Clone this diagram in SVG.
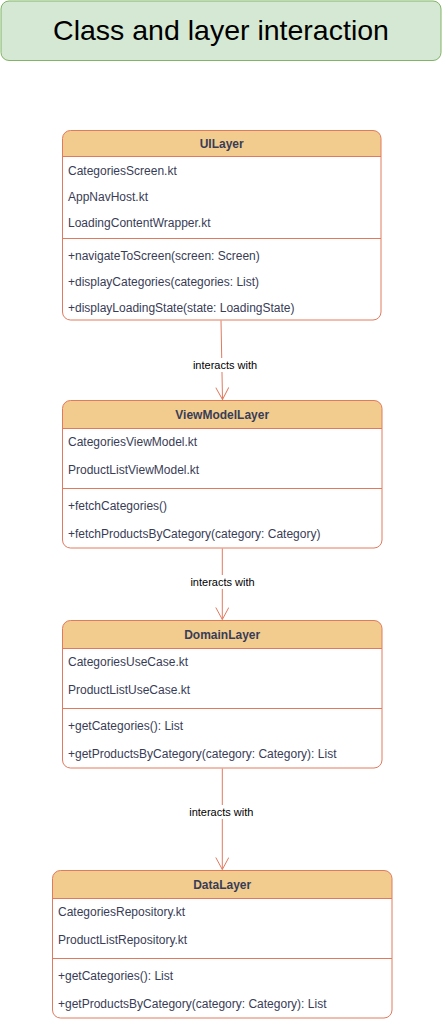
<svg xmlns="http://www.w3.org/2000/svg" width="443" height="1022" viewBox="0 0 443 1022">
<defs>
<style>
.box{fill:#ffffff;stroke:none}
.hdr{fill:#F2CC8F;stroke:none}
.out{fill:none;stroke:#E07A5F;stroke-width:1}
.sep{stroke:#E07A5F;stroke-width:1;fill:none}
.ht{font-family:"Liberation Sans",Arial,sans-serif;font-size:12px;font-weight:bold;fill:#393C56;text-anchor:middle}
.it{font-family:"Liberation Sans",Arial,sans-serif;font-size:12px;fill:#393C56}
.edge{stroke:#E07A5F;stroke-width:1;fill:none}
.lbl{font-family:"Liberation Sans",Arial,sans-serif;font-size:11px;fill:#000000;text-anchor:middle}
</style>
<marker id="open" viewBox="0 0 14 14" refX="13" refY="7" markerWidth="14" markerHeight="14" markerUnits="userSpaceOnUse" orient="auto">
<path d="M1,0.5 L13,7 L1,13.5" fill="none" stroke="#E07A5F" stroke-width="1"/>
</marker>
</defs>

<g id="title">
<rect x="1" y="1" width="440" height="59.5" rx="8" fill="#D5E8D4" stroke="#82B366" stroke-width="1"/>
<text x="221" y="40" font-family="Liberation Sans,Arial,sans-serif" font-size="28.5" fill="#000000" text-anchor="middle">Class and layer interaction</text>
</g>

<g id="connectors">
<line class="edge" x1="221" y1="320.5" x2="222.5" y2="399.5" marker-end="url(#open)"/>
<rect x="192.5" y="358" width="65" height="14" fill="#ffffff"/>
<text class="lbl" x="225" y="369">interacts with</text>
<line class="edge" x1="222.3" y1="548.5" x2="222.3" y2="619.5" marker-end="url(#open)"/>
<rect x="190" y="575" width="65" height="14" fill="#ffffff"/>
<text class="lbl" x="222.5" y="586">interacts with</text>
<line class="edge" x1="222.3" y1="768.5" x2="222.3" y2="869.5" marker-end="url(#open)"/>
<rect x="189" y="805" width="65" height="14" fill="#ffffff"/>
<text class="lbl" x="221.3" y="816">interacts with</text>
</g>

<g id="UILayer">
<rect class="box" x="62.5" y="130.5" width="318.5" height="189.5" rx="8"/>
<path class="hdr" d="M62.5,156.5 V138.5 A8,8 0 0 1 70.5,130.5 H373 A8,8 0 0 1 381,138.5 V156.5 Z"/>
<line class="sep" x1="62.5" y1="156.5" x2="381" y2="156.5"/>
<line class="sep" x1="62.5" y1="238.5" x2="381" y2="238.5"/>
<rect class="out" x="62.5" y="130.5" width="318.5" height="189.5" rx="8"/>
<text class="ht" x="221.7" y="147.5">UILayer</text>
<text class="it" x="68" y="174.5">CategoriesScreen.kt</text>
<text class="it" x="68" y="200.5">AppNavHost.kt</text>
<text class="it" x="68" y="226.5">LoadingContentWrapper.kt</text>
<text class="it" x="68" y="259.5">+navigateToScreen(screen: Screen)</text>
<text class="it" x="68" y="285.5">+displayCategories(categories: List)</text>
<text class="it" x="68" y="311.5">+displayLoadingState(state: LoadingState)</text>
</g>

<g id="ViewModelLayer">
<rect class="box" x="62.5" y="400.5" width="319.5" height="147.5" rx="8"/>
<path class="hdr" d="M62.5,428.5 V408.5 A8,8 0 0 1 70.5,400.5 H374 A8,8 0 0 1 382,408.5 V428.5 Z"/>
<line class="sep" x1="62.5" y1="428.5" x2="382" y2="428.5"/>
<line class="sep" x1="62.5" y1="488.5" x2="382" y2="488.5"/>
<rect class="out" x="62.5" y="400.5" width="319.5" height="147.5" rx="8"/>
<text class="ht" x="222.2" y="418.5">ViewModelLayer</text>
<text class="it" x="68" y="446">CategoriesViewModel.kt</text>
<text class="it" x="68" y="474">ProductListViewModel.kt</text>
<text class="it" x="68" y="510">+fetchCategories()</text>
<text class="it" x="68" y="538">+fetchProductsByCategory(category: Category)</text>
</g>

<g id="DomainLayer">
<rect class="box" x="62.5" y="620.5" width="319.5" height="147.5" rx="8"/>
<path class="hdr" d="M62.5,648.5 V628.5 A8,8 0 0 1 70.5,620.5 H374 A8,8 0 0 1 382,628.5 V648.5 Z"/>
<line class="sep" x1="62.5" y1="648.5" x2="382" y2="648.5"/>
<line class="sep" x1="62.5" y1="708.5" x2="382" y2="708.5"/>
<rect class="out" x="62.5" y="620.5" width="319.5" height="147.5" rx="8"/>
<text class="ht" x="222.2" y="638.5">DomainLayer</text>
<text class="it" x="68" y="666">CategoriesUseCase.kt</text>
<text class="it" x="68" y="694">ProductListUseCase.kt</text>
<text class="it" x="68" y="730">+getCategories(): List</text>
<text class="it" x="68" y="758">+getProductsByCategory(category: Category): List</text>
</g>

<g id="DataLayer">
<rect class="box" x="52.5" y="870.5" width="339.5" height="147.5" rx="8"/>
<path class="hdr" d="M52.5,898.5 V878.5 A8,8 0 0 1 60.5,870.5 H384 A8,8 0 0 1 392,878.5 V898.5 Z"/>
<line class="sep" x1="52.5" y1="898.5" x2="392" y2="898.5"/>
<line class="sep" x1="52.5" y1="958.5" x2="392" y2="958.5"/>
<rect class="out" x="52.5" y="870.5" width="339.5" height="147.5" rx="8"/>
<text class="ht" x="222.2" y="888.5">DataLayer</text>
<text class="it" x="58" y="916">CategoriesRepository.kt</text>
<text class="it" x="58" y="944">ProductListRepository.kt</text>
<text class="it" x="58" y="980">+getCategories(): List</text>
<text class="it" x="58" y="1008">+getProductsByCategory(category: Category): List</text>
</g>
</svg>
